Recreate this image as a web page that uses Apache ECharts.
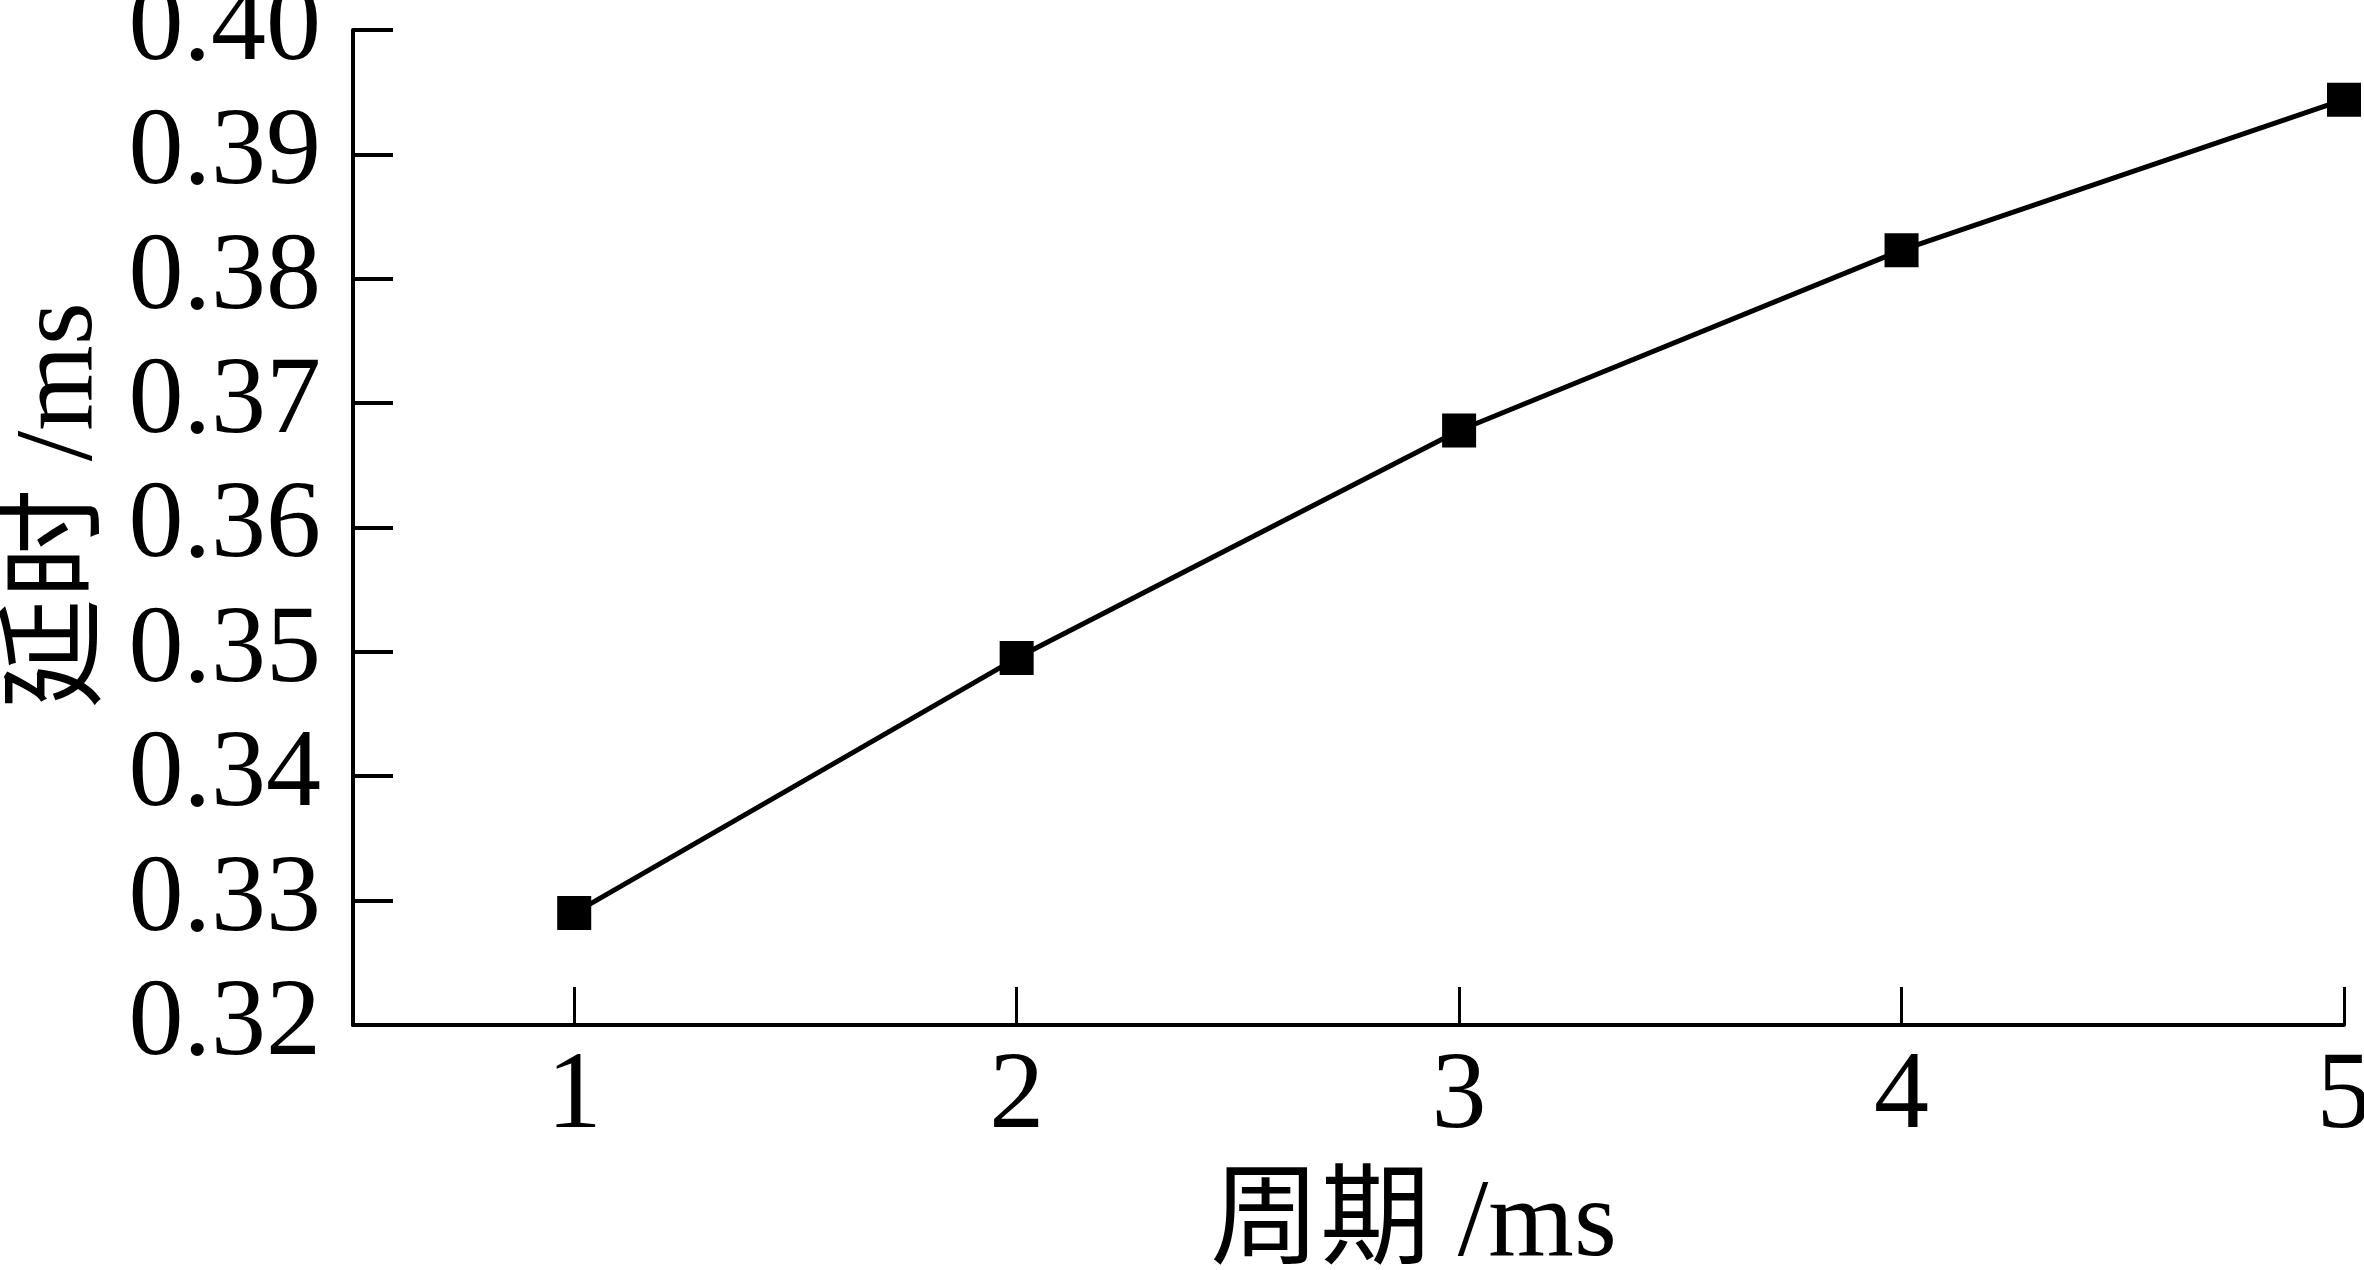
<!DOCTYPE html>
<html>
<head>
<meta charset="utf-8">
<style>
    html, body { margin: 0; padding: 0; background: #fff; }
    #delayChart { width: 2364px; height: 1270px; }
</style>
</head>
<body>
<div id="delayChart"></div>
<script src="https://cdn.jsdelivr.net/npm/echarts@6/dist/echarts.min.js"></script>
<script>
    // 周期 (ms) vs 延时 (ms)
    var periods = [1, 2, 3, 4, 5];
    var delays = [0.3290, 0.3495, 0.3678, 0.3823, 0.3944];
    var xTicks = [1, 2, 3, 4, 5];
    var xName = '周期 /ms';
    var yName = '延时 /ms';

    var fontFamily = '"Liberation Serif", "Times New Roman", "Noto Sans CJK SC", serif';

    var chart = echarts.init(document.getElementById('delayChart'));
    var option = {
        backgroundColor: '#fff',
        animation: false,
        grid: {
            left: 353,
            right: 20,
            top: 30,
            bottom: 245,
            outerBoundsMode: 'none'
        },
        xAxis: {
            type: 'value',
            min: 0.5,
            max: 5,
            name: xName,
            nameLocation: 'middle',
            nameGap: 146,
            nameMoveOverlap: false,
            nameTextStyle: {
                color: '#000',
                fontSize: 110,
                fontFamily: fontFamily,
                padding: [0, 0, 0, 130]
            },
            splitLine: {show: false},
            axisLine: {show: true, lineStyle: {color: '#000', width: 4}},
            axisTick: {
                show: true,
                inside: true,
                length: 38,
                customValues: xTicks,
                lineStyle: {color: '#000', width: 3}
            },
            axisLabel: {
                color: '#000',
                fontSize: 110,
                fontFamily: fontFamily,
                margin: 18,
                customValues: xTicks
            }
        },
        yAxis: {
            type: 'value',
            min: 0.32,
            max: 0.40,
            interval: 0.01,
            name: yName,
            nameLocation: 'middle',
            nameRotate: 90,
            nameGap: 236,
            nameMoveOverlap: false,
            nameTextStyle: {
                color: '#000',
                fontSize: 110,
                fontFamily: fontFamily,
                padding: [0, 0, 0, 44]
            },
            splitLine: {show: false},
            axisLine: {show: true, lineStyle: {color: '#000', width: 4}},
            axisTick: {
                show: true,
                inside: true,
                length: 40,
                lineStyle: {color: '#000', width: 4}
            },
            axisLabel: {
                color: '#000',
                fontSize: 110,
                fontFamily: fontFamily,
                margin: 32,
                formatter: function (v) { return v.toFixed(2); }
            }
        },
        series: [
            {
                name: yName,
                type: 'line',
                data: periods.map(function (p, i) { return [p, delays[i]]; }),
                symbol: 'rect',
                symbolSize: 34,
                lineStyle: {color: '#000', width: 5},
                itemStyle: {color: '#000'}
            }
        ]
    };
    chart.setOption(option);
</script>
</body>
</html>
